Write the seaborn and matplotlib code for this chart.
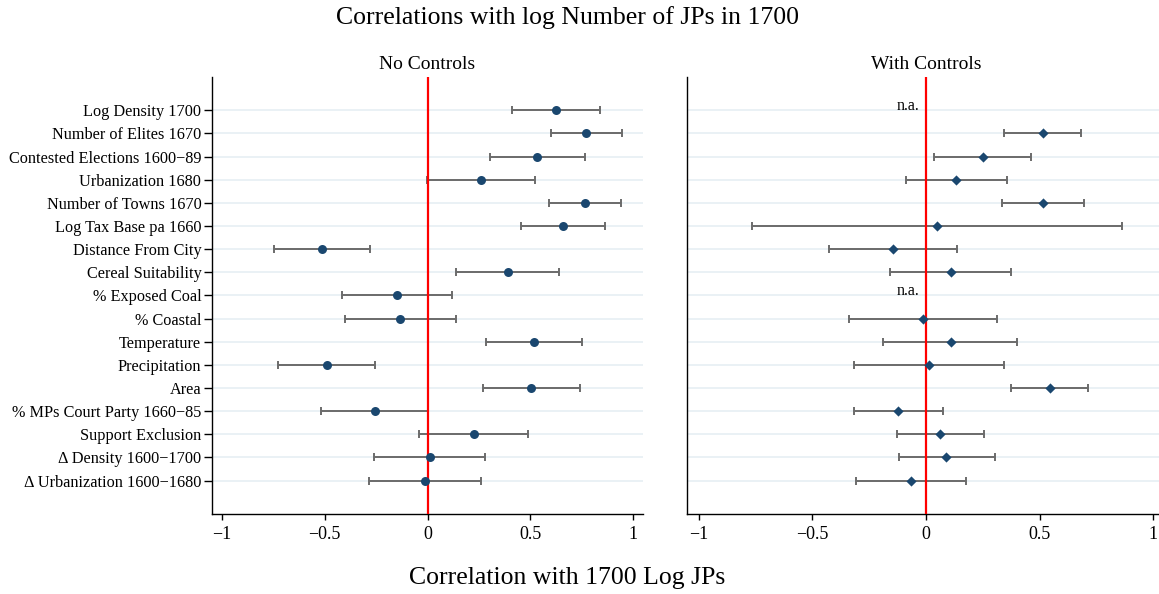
import numpy as np
import pandas as pd
import matplotlib
matplotlib.use("Agg")
import matplotlib.pyplot as plt
import seaborn as sns

# Covariates, top to bottom
variables = [
    "Log Density 1700",
    "Number of Elites 1670",
    "Contested Elections 1600\u221289",
    "Urbanization 1680",
    "Number of Towns 1670",
    "Log Tax Base pa 1660",
    "Distance From City",
    "Cereal Suitability",
    "% Exposed Coal",
    "% Coastal",
    "Temperature",
    "Precipitation",
    "Area",
    "% MPs Court Party 1660\u221285",
    "Support Exclusion",
    "\u0394 Density 1600\u22121700",
    "\u0394 Urbanization 1600\u22121680",
]

# Correlations without controls: estimate and 95% interval
nc_est = [0.626, 0.772, 0.534, 0.261, 0.766, 0.660, -0.514, 0.390, -0.151,
          -0.133, 0.516, -0.491, 0.505, -0.258, 0.224, 0.010, -0.013]
nc_lo = [0.412, 0.602, 0.305, -0.003, 0.592, 0.454, -0.749, 0.138, -0.418,
         -0.402, 0.284, -0.728, 0.271, -0.520, -0.040, -0.263, -0.284]
nc_hi = [0.837, 0.947, 0.764, 0.522, 0.943, 0.863, -0.282, 0.639, 0.119,
         0.138, 0.750, -0.254, 0.740, 0.004, 0.490, 0.281, 0.258]

# Correlations with controls (NaN = not available)
wc_est = [np.nan, 0.514, 0.250, 0.132, 0.515, 0.047, -0.146, 0.109, np.nan,
          -0.012, 0.109, 0.012, 0.545, -0.121, 0.064, 0.090, -0.066]
wc_lo = [np.nan, 0.344, 0.037, -0.087, 0.334, -0.765, -0.428, -0.160, np.nan,
         -0.340, -0.187, -0.315, 0.375, -0.315, -0.127, -0.119, -0.306]
wc_hi = [np.nan, 0.684, 0.463, 0.356, 0.696, 0.864, 0.135, 0.375, np.nan,
         0.313, 0.402, 0.343, 0.715, 0.075, 0.255, 0.302, 0.177]

NAVY = "#1a476f"
GRID = "#e6eff3"
BAR = "#6b6b6b"

sns.set_theme(style="white")
plt.rcParams["font.family"] = ["Liberation Serif", "DejaVu Serif"]
plt.rcParams["axes.unicode_minus"] = True

rows = np.arange(len(variables))


def make_frame(est, lo, hi):
    return pd.DataFrame({"var": variables, "row": rows, "est": est, "lo": lo, "hi": hi})


def draw_panel(ax, df, marker, size, title, labels):
    for r in rows:
        ax.axhline(r, color=GRID, lw=1.2, zorder=0)
    ok = df.dropna()
    ax.errorbar(ok["est"], ok["row"],
                xerr=[ok["est"] - ok["lo"], ok["hi"] - ok["est"]],
                fmt="none", ecolor=BAR, elinewidth=1.4, capsize=3, capthick=1.4,
                zorder=2)
    ax.axvline(0, color="#ff0000", lw=1.6, zorder=3)
    sns.scatterplot(data=ok, x="est", y="row", marker=marker, s=size,
                    color=NAVY, edgecolor=NAVY, linewidth=0, legend=False,
                    ax=ax, zorder=4)
    for _, r in df[df["est"].isna()].iterrows():
        ax.text(-0.031, r["row"], "n.a.", ha="right", va="baseline",
                fontsize=11.5, color="black", zorder=5)

    ax.set_xlim(-1.05, 1.05)
    ax.set_ylim(len(variables) - 1 + 1.43, -1.44)
    ax.set_xticks([-1, -0.5, 0, 0.5, 1])
    ax.set_xticklabels(["\u22121", "\u22120.5", "0", "0.5", "1"])
    ax.set_yticks(rows)
    if labels:
        ax.set_yticklabels(variables)
        ax.tick_params(axis="y", length=6, width=1.0, pad=1.5, labelsize=11.7,
                       left=True, color="black", labelcolor="black")
    else:
        ax.set_yticklabels([])
        ax.tick_params(axis="y", length=0, left=False)
    ax.tick_params(axis="x", length=4, width=1.0, pad=5, labelsize=13,
                   bottom=True, color="black", labelcolor="black")
    ax.set_xlabel("")
    ax.set_ylabel("")
    for side in ["top", "right"]:
        ax.spines[side].set_visible(False)
    for side in ["left", "bottom"]:
        ax.spines[side].set_color("black")
        ax.spines[side].set_linewidth(1.0)
    ax.set_title(title, fontsize=14, pad=5.8, color="black")


fig = plt.figure(figsize=(11.59, 5.94), dpi=100)
ax1 = fig.add_axes([0.1827, 0.1352, 0.3724, 0.7352])
ax2 = fig.add_axes([0.5930, 0.1352, 0.4118, 0.7352])

draw_panel(ax1, make_frame(nc_est, nc_lo, nc_hi), "o", 42, "No Controls", True)
draw_panel(ax2, make_frame(wc_est, wc_lo, wc_hi), "D", 27, "With Controls", False)

fig.text(567 / 1159, 1 - 24 / 594, "Correlations with log Number of JPs in 1700",
         ha="center", va="baseline", fontsize=18.5, color="black")
fig.text(567 / 1159, 1 - 584 / 594, "Correlation with 1700 Log JPs",
         ha="center", va="baseline", fontsize=18.5, color="black")

fig.savefig("out.png", dpi=100, facecolor="white")
